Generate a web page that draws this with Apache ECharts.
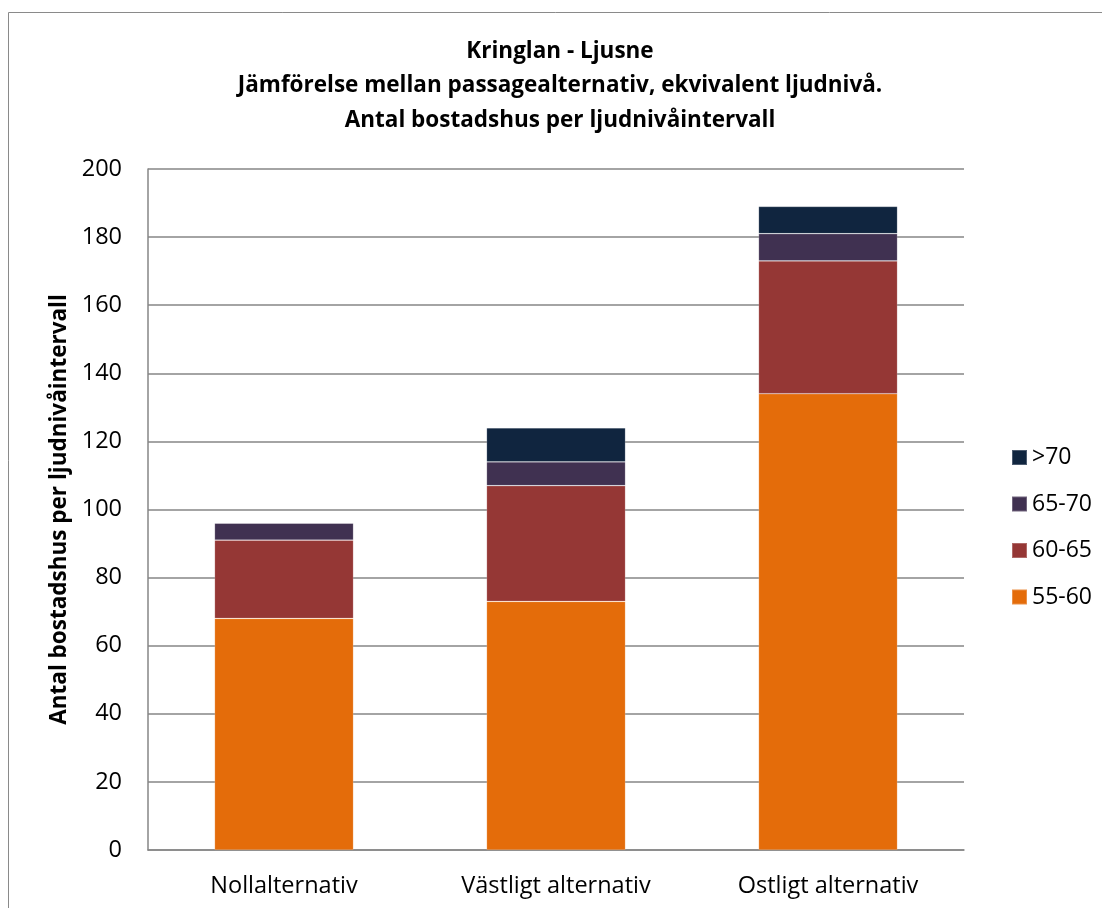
<!DOCTYPE html>
<html>
<head>
<meta charset="utf-8">
<script src="https://cdn.jsdelivr.net/npm/echarts@6/dist/echarts.min.js"></script>
<style>
  html, body { margin: 0; padding: 0; background: #fff; }
  #chart { width: 1102px; height: 908px; }
</style>
</head>
<body>
<div id="chart"></div>
<script>
const categories = ["Nollalternativ", "Västligt alternativ", "Ostligt alternativ"];
const seriesNames = ["55-60", "60-65", "65-70", ">70"];
const values5560 = [68, 73, 134];
const values6065 = [23, 34, 39];
const values6570 = [5, 7, 8];
const values70 = [0, 10, 8];
const colors = ["#E46C0A", "#953735", "#403151", "#10253F"];
const titleLines = [
  "Kringlan - Ljusne",
  "Jämförelse mellan passagealternativ, ekvivalent ljudnivå.",
  "Antal bostadshus per ljudnivåintervall"
];

const font = "'Open Sans', sans-serif";
const chartInstance = echarts.init(document.getElementById("chart"));

const allValues = [values5560, values6065, values6570, values70];

const option = {
  animation: false,
  textStyle: { fontFamily: font },
  title: {
    text: titleLines.join("\n"),
    left: 555,
    textAlign: "center",
    top: 29,
    textStyle: {
      fontFamily: font,
      fontSize: 22.5,
      fontWeight: "bold",
      color: "#000",
      lineHeight: 34.5
    }
  },
  graphic: [
    {
      type: "rect",
      shape: { x: 8.5, y: 12.5, width: 1200, height: 1000 },
      style: { fill: "none", stroke: "#8a8a8a", lineWidth: 1 },
      silent: true
    }
  ],
  legend: {
    orient: "vertical",
    left: 1006,
    top: 441,
    itemWidth: 15,
    itemHeight: 15,
    itemGap: 23.5,
    icon: "rect",
    data: seriesNames.slice().reverse(),
    textStyle: { fontFamily: font, fontSize: 23, color: "#000" }
  },
  grid: { left: 148, right: 138, top: 169, bottom: 58 },
  xAxis: {
    type: "category",
    data: categories,
    axisTick: { show: false },
    axisLine: { lineStyle: { color: "#868686", width: 1.5 } },
    axisLabel: { fontFamily: font, fontSize: 23.5, color: "#000", margin: 24 }
  },
  yAxis: {
    type: "value",
    min: 0,
    max: 200,
    interval: 20,
    name: "Antal bostadshus per ljudnivåintervall",
    nameLocation: "middle",
    nameGap: 77,
    nameTextStyle: { fontFamily: font, fontSize: 22.5, fontWeight: "bold", color: "#000" },
    axisLine: { show: true, lineStyle: { color: "#868686", width: 1.5 } },
    axisTick: { show: false },
    axisLabel: { fontFamily: font, fontSize: 23.5, color: "#000", margin: 26 },
    splitLine: { lineStyle: { color: "#868686", width: 1.5 } }
  },
  series: seriesNames.map((name, i) => ({
    name: name,
    type: "bar",
    stack: "total",
    barWidth: 139,
    data: allValues[i],
    itemStyle: {
      color: colors[i],
      borderColor: "rgba(255,255,255,0.25)",
      borderWidth: 0.7
    }
  }))
};

chartInstance.setOption(option);
</script>
</body>
</html>
